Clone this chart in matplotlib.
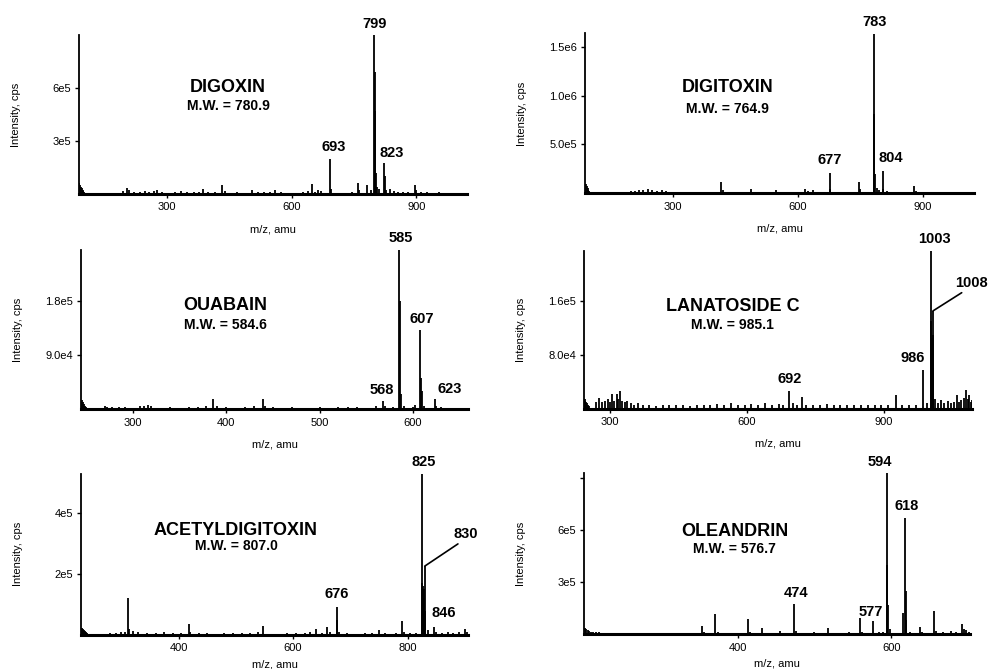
import matplotlib
matplotlib.use("Agg")
import matplotlib.pyplot as plt

plt.rcParams['font.family'] = ['Liberation Sans', 'DejaVu Sans']

# ---- data: peak lists (m/z, intensity in cps) ----
digoxin_mz = [90, 92, 94, 96, 98, 100, 102, 104, 106, 160, 180, 195, 204, 210, 222, 235, 248, 258, 270, 278,
              290, 305, 320, 334, 350, 365, 378, 388, 400, 415, 432, 440, 455, 470, 490, 504, 520, 535, 548,
              560, 575, 590, 610, 628, 640, 650, 657, 664, 670, 693, 694, 710, 730, 745, 760, 763, 780, 790,
              799, 800, 801, 802, 805, 810, 823, 824, 826, 836, 845, 855, 868, 880, 896, 900, 910, 925, 940,
              955, 970, 985, 1000, 1015]
digoxin_int = [6.0e4, 5.0e4, 4.0e4, 3.2e4, 2.5e4, 1.8e4, 1.2e4, 8e3, 5e3, 5e3, 8e3, 1.5e4, 3.2e4, 2.0e4, 1.2e4,
               1.0e4, 1.9e4, 1.2e4, 1.5e4, 2.3e4, 1.0e4, 8e3, 1.2e4, 1.5e4, 1.0e4, 1.2e4, 1.0e4, 2.8e4, 1.0e4,
               1.2e4, 4.9e4, 1.5e4, 8e3, 1.0e4, 8e3, 2.5e4, 1.0e4, 1.2e4, 1.0e4, 2.3e4, 1.0e4, 8e3, 6e3, 1.0e4,
               1.5e4, 5.7e4, 1.2e4, 2.3e4, 1.5e4, 1.96e5, 3e4, 6e3, 8e3, 1.0e4, 6.4e4, 2.5e4, 5.0e4, 2.0e4,
               9.0e5, 6.9e5, 4.7e5, 1.2e5, 4e4, 3e4, 1.77e5, 1.0e5, 2.5e4, 2.8e4, 1.5e4, 1.2e4, 1.0e4, 1.2e4,
               4.9e4, 2.0e4, 1.2e4, 1.0e4, 8e3, 1.0e4, 8e3, 6e3, 8e3, 5e3]

digitoxin_mz = [92, 94, 96, 98, 100, 102, 104, 150, 190, 200, 210, 220, 230, 240, 250, 262, 275, 285, 300, 320,
                340, 360, 380, 395, 416, 420, 440, 460, 488, 500, 520, 548, 570, 590, 618, 625, 636, 650, 677,
                678, 700, 720, 748, 750, 770, 783, 784, 785, 790, 795, 804, 806, 815, 830, 850, 865, 880, 885,
                900, 920, 945, 970, 995, 1015]
digitoxin_int = [9.5e4, 7e4, 5e4, 3.5e4, 2.2e4, 1.2e4, 6e3, 5e3, 1.5e4, 2.5e4, 2.5e4, 3.5e4, 3.0e4, 4.0e4, 3.0e4,
                 2.5e4, 3.0e4, 2.0e4, 1.5e4, 1.5e4, 1.0e4, 1.2e4, 1.0e4, 8e3, 1.12e5, 3.0e4, 1.0e4, 8e3, 4.4e4,
                 1.0e4, 8e3, 3.4e4, 8e3, 6e3, 4.4e4, 2.5e4, 3.7e4, 8e3, 2.08e5, 4e4, 8e3, 1.0e4, 1.19e5, 4e4,
                 1.5e4, 1.63e6, 8.1e5, 2.0e5, 5e4, 3e4, 2.24e5, 4e4, 2.5e4, 1.5e4, 1.2e4, 1.0e4, 7.8e4, 2.5e4,
                 1.0e4, 6e3, 8e3, 6e3, 6e3, 5e3]

ouabain_mz = [246, 247, 248, 249, 250, 258, 270, 273, 278, 285, 292, 300, 308, 312, 316, 320, 328, 340, 350, 360,
              370, 378, 386, 390, 400, 410, 420, 430, 439, 442, 450, 460, 470, 480, 490, 500, 510, 520, 530,
              540, 550, 560, 568, 570, 578, 585, 586, 587, 590, 600, 602, 607, 608, 609, 612, 623, 625, 630,
              640, 650]
ouabain_int = [1.5e4, 1.2e4, 9e3, 6e3, 4e3, 2e3, 5e3, 4e3, 4.5e3, 4e3, 4e3, 3e3, 5e3, 6e3, 7e3, 5e3, 3e3, 4e3,
               3e3, 4e3, 4e3, 5e3, 1.8e4, 5e3, 4e3, 3e3, 4e3, 5e3, 1.7e4, 6e3, 4e3, 3e3, 4e3, 3e3, 3e3, 4e3,
               3e3, 4e3, 4e3, 4e3, 3e3, 5e3, 1.4e4, 6e3, 4e3, 2.65e5, 1.8e5, 2.5e4, 5e3, 4e3, 8e3, 1.33e5,
               5.3e4, 3e4, 5e3, 1.8e4, 6e3, 4e3, 3e3, 2e3]

lanatoside_mz = [244, 246, 248, 250, 252, 254, 270, 276, 282, 288, 296, 300, 304, 308, 315, 318, 322, 326, 332,
                 337, 345, 352, 362, 372, 385, 400, 415, 430, 445, 460, 475, 490, 505, 520, 535, 550, 565, 580,
                 595, 610, 625, 640, 655, 670, 680, 692, 700, 710, 721, 730, 745, 760, 775, 790, 805, 820, 835,
                 850, 865, 880, 895, 910, 928, 940, 955, 970, 986, 995, 1003, 1004, 1005, 1006, 1007, 1008, 1009,
                 1012, 1018, 1025, 1032, 1040, 1048, 1055, 1060, 1066, 1070, 1075, 1080, 1084, 1087, 1091, 1094]
lanatoside_int = [1.5e4, 1.2e4, 1.0e4, 8e3, 6e3, 4e3, 1.0e4, 1.6e4, 1.0e4, 1.2e4, 1.4e4, 1.0e4, 2.2e4, 1.2e4,
                  2.2e4, 1.5e4, 2.6e4, 1.2e4, 1.0e4, 1.2e4, 8e3, 6e3, 8e3, 5e3, 5e3, 4e3, 5e3, 6e3, 5e3, 5e3,
                  4e3, 6e3, 5e3, 6e3, 7e3, 6e3, 8e3, 6e3, 5e3, 7e3, 6e3, 8e3, 6e3, 7e3, 6e3, 2.7e4, 8e3, 6e3,
                  1.8e4, 6e3, 5e3, 6e3, 7e3, 6e3, 5e3, 6e3, 5e3, 6e3, 5e3, 6e3, 5e3, 6e3, 2.1e4, 5e3, 6e3, 5e3,
                  5.7e4, 8e3, 2.34e5, 1.3e5, 1.05e5, 9e4, 1.1e5, 1.45e5, 6e4, 1.5e4, 8e3, 1.3e4, 8e3, 1.2e4,
                  8e3, 1.0e4, 2.0e4, 1.0e4, 1.3e4, 1.6e4, 2.8e4, 1.5e4, 2.0e4, 1.0e4, 1.3e4]

acetyl_mz = [231, 233, 235, 237, 239, 241, 250, 265, 280, 290, 300, 306, 312, 314, 320, 330, 345, 360, 375, 390,
             405, 418, 420, 435, 450, 465, 480, 495, 510, 525, 538, 548, 560, 575, 590, 605, 620, 630, 640, 650,
             660, 665, 676, 677, 680, 695, 710, 725, 738, 750, 760, 770, 780, 790, 793, 805, 815, 825, 826, 827,
             828, 829, 830, 831, 835, 846, 850, 860, 870, 880, 890, 900, 904]
acetyl_int = [2.4e4, 2.0e4, 1.6e4, 1.2e4, 8e3, 5e3, 3e3, 4e3, 5e3, 6e3, 8e3, 1.0e4, 1.22e5, 2.0e4, 1.2e4, 8e3,
              6e3, 6e3, 8e3, 5e3, 5e3, 3.7e4, 8e3, 5e3, 5e3, 4e3, 6e3, 6e3, 5e3, 5e3, 8e3, 3.0e4, 4e3, 4e3,
              5e3, 6e3, 6e3, 8e3, 1.9e4, 6e3, 2.7e4, 8e3, 9.2e4, 5.0e4, 1.0e4, 5e3, 4e3, 5e3, 5e3, 1.6e4, 5e3,
              4e3, 5e3, 4.6e4, 8e3, 5e3, 5e3, 5.3e5, 1.7e5, 1.6e5, 1.5e5, 1.2e5, 2.26e5, 8e4, 1.5e4, 2.5e4,
              8e3, 6e3, 8e3, 6e3, 8e3, 1.9e4, 8e3]

oleandrin_mz = [201, 203, 205, 207, 209, 212, 215, 220, 226, 235, 250, 265, 280, 295, 310, 325, 340, 353, 356,
                365, 371, 374, 385, 395, 405, 413, 416, 424, 432, 440, 448, 455, 462, 474, 476, 485, 499, 508,
                518, 525, 535, 545, 559, 562, 570, 577, 584, 589, 594, 595, 596, 598, 605, 615, 618, 619, 620,
                625, 637, 640, 648, 656, 658, 668, 678, 684, 692, 695, 698, 701]
oleandrin_int = [3.8e4, 3.0e4, 2.5e4, 2.0e4, 1.5e4, 1.5e4, 1.2e4, 1.0e4, 8e3, 5e3, 4e3, 4e3, 5e3, 4e3, 5e3, 4e3,
                 4e3, 4.8e4, 1.0e4, 5e3, 1.15e5, 1.5e4, 5e3, 5e3, 4e3, 8.7e4, 1.0e4, 8e3, 3.8e4, 6e3, 5e3, 2.0e4,
                 8e3, 1.77e5, 2.0e4, 6e3, 1.5e4, 5e3, 3.8e4, 6e3, 8e3, 1.0e4, 9.6e4, 1.5e4, 6e3, 7.7e4, 1.0e4,
                 1.5e4, 9.3e5, 4.0e5, 1.7e5, 3e4, 8e3, 1.25e5, 6.7e5, 2.5e5, 8e4, 1.5e4, 4.2e4, 1.2e4, 8e3,
                 1.35e5, 2.0e4, 1.0e4, 2.0e4, 1.2e4, 5.8e4, 3.0e4, 2.5e4, 1.2e4]

names = ["DIGOXIN", "DIGITOXIN", "OUABAIN", "LANATOSIDE C", "ACETYLDIGITOXIN", "OLEANDRIN"]
mol_weights = ["780.9", "764.9", "584.6", "985.1", "807.0", "576.7"]

digoxin_labels = [799, 693, 823]
digitoxin_labels = [783, 677, 804]
ouabain_labels = [585, 607, 568, 623]
lanatoside_labels = [1003, 986, 692, 1008]
acetyl_labels = [825, 676, 846, 830]
oleandrin_labels = [594, 618, 474, 577]

digoxin_yticks = [3e5, 6e5]
digitoxin_yticks = [5e5, 1e6, 1.5e6]
ouabain_yticks = [9e4, 1.8e5]
lanatoside_yticks = [8e4, 1.6e5]
acetyl_yticks = [2e5, 4e5]
oleandrin_yticks = [3e5, 6e5, 9e5]
ytick_text = [["3e5", "6e5"], ["5.0e5", "1.0e6", "1.5e6"], ["9.0e4", "1.8e5"], ["8.0e4", "1.6e5"],
              ["2e5", "4e5"], ["3e5", "6e5", ""]]
xticks = [[300, 600, 900], [300, 600, 900], [300, 400, 500, 600], [300, 600, 900], [400, 600, 800], [400, 600]]

# ---- layout / styling ----
fig = plt.figure(figsize=(9.9, 6.69), dpi=100)

rects = [[0.080, 0.710, 0.392, 0.238], [0.591, 0.711, 0.393, 0.239],
         [0.082, 0.388, 0.391, 0.238], [0.590, 0.389, 0.392, 0.236],
         [0.082, 0.051, 0.391, 0.241], [0.590, 0.052, 0.390, 0.241]]
xlims = [(90, 1022), (90, 1024), (245, 659), (243, 1094), (230, 906), (200, 703)]
ylims = [9.0e5, 1.635e6, 2.65e5, 2.34e5, 5.3e5, 9.3e5]
xlabel_y = [-0.19, -0.19, -0.19, -0.19, -0.15, -0.15]
title_pos = [(0.384, 0.67, 0.55), (0.366, 0.66, 0.53), (0.372, 0.65, 0.53),
             (0.382, 0.65, 0.53), (0.40, 0.646, 0.55), (0.39, 0.64, 0.53)]
# label offsets in pixels (dx, dy); leader lines for some labels
label_offsets = [
    {799: (0, 4), 693: (3, 5), 823: (7, 3)},
    {783: (1, 5), 677: (0, 6), 804: (8, 6)},
    {585: (2, 5), 607: (2, 4), 568: (-1, 4), 623: (15, 3)},
    {1003: (4, 5), 986: (-10, 5), 692: (1, 5), 1008: (38, 21)},
    {825: (2, 5), 676: (0, 6), 846: (10, 7), 830: (41, 25)},
    {594: (-7, 4), 618: (2, 5), 474: (2, 4), 577: (-3, 2)},
]
leaders = {(3, 1008), (4, 830)}

spectra = [(digoxin_mz, digoxin_int, digoxin_labels, digoxin_yticks),
           (digitoxin_mz, digitoxin_int, digitoxin_labels, digitoxin_yticks),
           (ouabain_mz, ouabain_int, ouabain_labels, ouabain_yticks),
           (lanatoside_mz, lanatoside_int, lanatoside_labels, lanatoside_yticks),
           (acetyl_mz, acetyl_int, acetyl_labels, acetyl_yticks),
           (oleandrin_mz, oleandrin_int, oleandrin_labels, oleandrin_yticks)]

px = 0.72  # points per pixel at dpi 100

for i, (mz, inten, labels, yt) in enumerate(spectra):
    ax = fig.add_axes(rects[i])
    ax.vlines(mz, 0, inten, color='black', lw=1.3)
    ax.set_xlim(*xlims[i])
    ax.set_ylim(0, ylims[i])

    for side in ['top', 'right']:
        ax.spines[side].set_visible(False)
    ax.spines['left'].set_linewidth(1.3)
    ax.spines['bottom'].set_linewidth(2.2)

    ax.set_xticks(xticks[i])
    ax.set_yticks(yt)
    ax.set_yticklabels(ytick_text[i])
    ax.tick_params(direction='out', length=3, width=1, labelsize=8, pad=3)

    ax.set_xlabel("m/z, amu", fontsize=8)
    ax.xaxis.set_label_coords(0.5, xlabel_y[i])
    ax.set_ylabel("Intensity, cps", fontsize=8)
    ax.yaxis.set_label_coords(-0.15, 0.5)

    tx, ty, mwy = title_pos[i]
    ax.text(tx, ty, names[i], transform=ax.transAxes, ha='center', va='center',
            fontsize=13, fontweight='bold')
    ax.text(tx, mwy, "M.W. = " + mol_weights[i], transform=ax.transAxes, ha='center', va='center',
            fontsize=10, fontweight='bold')

    for m in labels:
        h = inten[mz.index(m)]
        dx, dy = label_offsets[i][m]
        if (i, m) in leaders:
            ax.annotate(str(m), xy=(m, h), xytext=(dx * px, dy * px), textcoords='offset points',
                        ha='center', va='bottom', fontsize=10.5, fontweight='bold',
                        arrowprops=dict(arrowstyle='-', color='black', lw=1.2,
                                        shrinkA=0, shrinkB=0, relpos=(0.35, 0)),
                        annotation_clip=False)
        else:
            ax.annotate(str(m), xy=(m, h), xytext=(dx * px, dy * px), textcoords='offset points',
                        ha='center', va='bottom', fontsize=10.5, fontweight='bold',
                        annotation_clip=False)

fig.savefig("out.png", dpi=100)
